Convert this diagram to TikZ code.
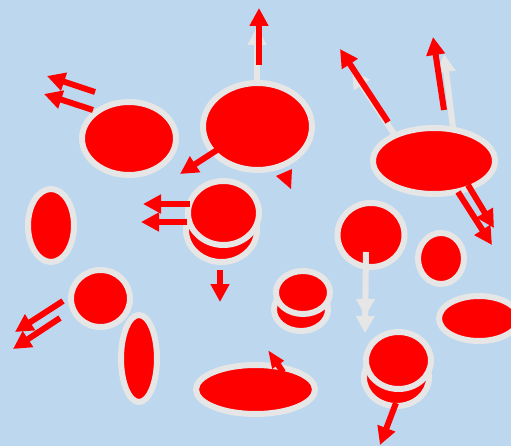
\documentclass[tikz,border=0pt]{standalone}
\usetikzlibrary{arrows.meta}
\definecolor{bgblue}{HTML}{BDD7EE}
\definecolor{rimgray}{HTML}{E6E6E6}
\definecolor{cellred}{HTML}{FF0000}
\begin{document}
\begin{tikzpicture}[x=1pt,y=-1pt,
    cell/.style={fill=cellred,draw=rimgray,line width=6pt},
    redarrow/.style={draw=cellred,line width=6pt,-{Triangle[width=18pt,length=18pt]}},
    grayarrow/.style={draw=rimgray,line width=6pt,-{Triangle[width=18pt,length=18pt]}}]
    \fill[bgblue] (0,0) rectangle (511,446);
    \useasboundingbox (0,0) rectangle (511,446);
    \draw[cell] (129,138.5) ellipse [x radius=47,y radius=36.5];
    \draw[cell] (257.5,126.5) ellipse [x radius=54.5,y radius=43.5];
    \draw[cell] (51,225.5) ellipse [x radius=23,y radius=36.5];
    \draw[cell] (221.5,230) ellipse [x radius=35.5,y radius=32];
    \draw[cell] (223.5,213) ellipse [x radius=35.5,y radius=32];
    \draw[cell] (434,161) ellipse [x radius=61,y radius=33];
    \draw[cell] (371,235) ellipse [x radius=33.5,y radius=32];
    \draw[cell] (441,258.5) ellipse [x radius=23,y radius=25.5];
    \draw[cell] (479,318.5) ellipse [x radius=40,y radius=22.5];
    \draw[cell] (301,309.5) ellipse [x radius=27,y radius=21.5];
    \draw[cell] (303,292.5) ellipse [x radius=27,y radius=21.5];
    \draw[cell] (100.5,298.5) ellipse [x radius=29.5,y radius=28.5];
    \draw[cell] (139,358.5) ellipse [x radius=18,y radius=43.5];
    \draw[cell] (255.5,389.5) ellipse [x radius=59.5,y radius=24.5];
    \draw[cell] (396.5,377.5) ellipse [x radius=32.5,y radius=28.5];
    \draw[cell] (398.5,360.5) ellipse [x radius=32.5,y radius=28.5];
    \draw[grayarrow] (257,80) -- (257,27);
    \draw[grayarrow] (396,137) -- (352,70);
    \draw[grayarrow] (453,128) -- (444,54);
    \draw[draw=rimgray,line width=6pt,-{Triangle[width=18pt,length=17pt] Triangle[width=18pt,length=17pt]}] (366,252) -- (365,333);
    \draw[redarrow] (95,92) -- (47,76);
    \draw[redarrow] (93,110) -- (44,94);
    \draw[redarrow] (259,65) -- (259,8);
    \draw[redarrow] (217,150) -- (180,174);
    \fill[cellred] (276,176) -- (292,169) -- (291,189) -- cycle;
    \draw[redarrow] (190,204) -- (143,204);
    \draw[redarrow] (187,222) -- (141,222);
    \draw[redarrow] (220,270) -- (220,302);
    \draw[redarrow] (63,301) -- (15,332);
    \draw[redarrow] (60,318) -- (13,349);
    \draw[redarrow,-{Triangle[width=13pt,length=18pt]}] (283,372) -- (268,350);
    \draw[redarrow] (388,122) -- (340,49);
    \draw[redarrow] (444,110) -- (433,37);
    \draw[redarrow] (468,185) -- (494,228);
    \draw[redarrow] (458,192) -- (492,245);
    \draw[redarrow] (396,403) -- (380,445);
\end{tikzpicture}
\end{document}
